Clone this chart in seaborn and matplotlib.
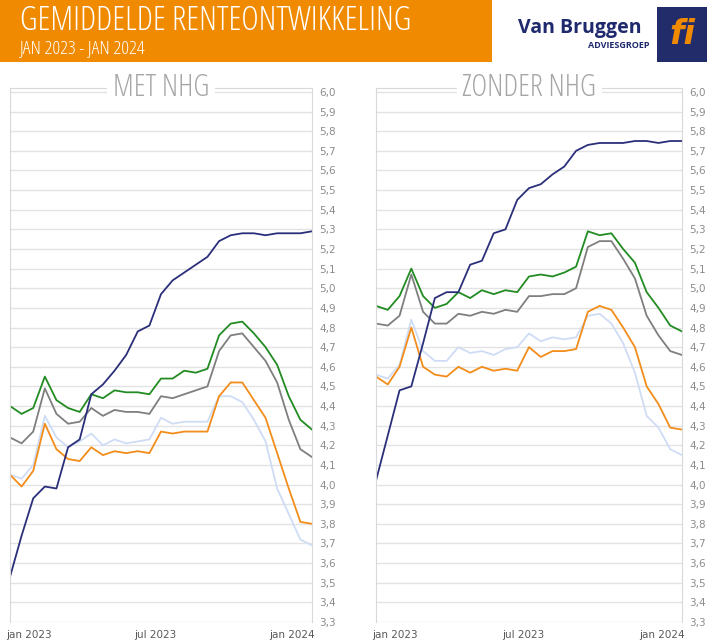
import matplotlib
matplotlib.use("Agg")
import matplotlib.pyplot as plt
from matplotlib.patches import Rectangle
from matplotlib import font_manager
import numpy as np
import pandas as pd
import seaborn as sns

# two-weekly readings, jan 2023 .. jan 2024
weeks = list(range(0, 53, 2))

met_navy = [3.53, 3.74, 3.93, 3.99, 3.98, 4.19, 4.23, 4.46, 4.51, 4.58, 4.66, 4.78, 4.81, 4.97,
            5.04, 5.08, 5.12, 5.16, 5.24, 5.27, 5.28, 5.28, 5.27, 5.28, 5.28, 5.28, 5.29]
met_green = [4.40, 4.36, 4.39, 4.55, 4.43, 4.39, 4.37, 4.46, 4.44, 4.48, 4.47, 4.47, 4.46, 4.54,
             4.54, 4.58, 4.57, 4.59, 4.76, 4.82, 4.83, 4.77, 4.70, 4.61, 4.45, 4.33, 4.28]
met_gray = [4.24, 4.21, 4.27, 4.49, 4.36, 4.31, 4.32, 4.39, 4.35, 4.38, 4.37, 4.37, 4.36, 4.45,
            4.44, 4.46, 4.48, 4.50, 4.68, 4.76, 4.77, 4.70, 4.63, 4.52, 4.33, 4.18, 4.14]
met_orange = [4.05, 3.99, 4.07, 4.31, 4.18, 4.13, 4.12, 4.19, 4.15, 4.17, 4.16, 4.17, 4.16, 4.27,
              4.26, 4.27, 4.27, 4.27, 4.45, 4.52, 4.52, 4.43, 4.34, 4.16, 3.98, 3.81, 3.80]
met_light = [4.05, 4.03, 4.10, 4.35, 4.24, 4.19, 4.22, 4.26, 4.20, 4.23, 4.21, 4.22, 4.23, 4.34,
             4.31, 4.32, 4.32, 4.32, 4.45, 4.45, 4.42, 4.33, 4.22, 3.98, 3.85, 3.72, 3.69]

zon_navy = [4.02, 4.25, 4.48, 4.50, 4.72, 4.95, 4.98, 4.98, 5.12, 5.14, 5.28, 5.30, 5.45, 5.51,
            5.53, 5.58, 5.62, 5.70, 5.73, 5.74, 5.74, 5.74, 5.75, 5.75, 5.74, 5.75, 5.75]
zon_green = [4.91, 4.89, 4.96, 5.10, 4.96, 4.90, 4.92, 4.98, 4.95, 4.99, 4.97, 4.99, 4.98, 5.06,
             5.07, 5.06, 5.08, 5.11, 5.29, 5.27, 5.28, 5.20, 5.13, 4.98, 4.90, 4.81, 4.78]
zon_gray = [4.82, 4.81, 4.86, 5.07, 4.88, 4.82, 4.82, 4.87, 4.86, 4.88, 4.87, 4.89, 4.88, 4.96,
            4.96, 4.97, 4.97, 5.00, 5.21, 5.24, 5.24, 5.15, 5.05, 4.86, 4.76, 4.68, 4.66]
zon_orange = [4.55, 4.51, 4.60, 4.80, 4.60, 4.56, 4.55, 4.60, 4.57, 4.60, 4.58, 4.59, 4.58, 4.70,
              4.65, 4.68, 4.68, 4.69, 4.88, 4.91, 4.89, 4.80, 4.70, 4.50, 4.41, 4.29, 4.28]
zon_light = [4.56, 4.54, 4.61, 4.84, 4.68, 4.63, 4.63, 4.70, 4.67, 4.68, 4.66, 4.69, 4.70, 4.77,
             4.73, 4.75, 4.74, 4.75, 4.86, 4.87, 4.82, 4.72, 4.57, 4.35, 4.29, 4.18, 4.15]

x_ticks = [3.3, 25, 48.6]
x_labels = ["jan 2023", "jul 2023", "jan 2024"]
y_ticks = np.round(np.arange(3.3, 6.01, 0.1), 1)

palette = {"navy": "#2b2f7a", "green": "#228b22", "gray": "#7f7f7f",
           "orange": "#f28c1a", "light": "#cfdcf5"}
ORANGE = "#f08a00"
TXT = "#a6a6a6"

names = {f.name for f in font_manager.fontManager.ttflist}
NARROW = "Liberation Sans Narrow" if "Liberation Sans Narrow" in names else "Open Sans"
NSTRETCH = "normal" if NARROW != "Open Sans" else "condensed"


def long_df(series):
    rows = []
    for name, vals in series.items():
        for w, v in zip(weeks, vals):
            rows.append({"week": w, "rente": v, "serie": name})
    return pd.DataFrame(rows)


panels = [
    ("MET NHG", {"light": met_light, "orange": met_orange, "gray": met_gray,
                 "green": met_green, "navy": met_navy}),
    ("ZONDER NHG", {"light": zon_light, "orange": zon_orange, "gray": zon_gray,
                    "green": zon_green, "navy": zon_navy}),
]

fig = plt.figure(figsize=(7.07, 6.44), dpi=100)
W, H = 707, 644
ax_rects = [(10, 312), (376, 682)]

for (title, series), (x0, x1) in zip(panels, ax_rects):
    ax = fig.add_axes([x0 / W, (H - 622) / H, (x1 - x0) / W, (622 - 88) / H])
    df = long_df(series)
    sns.lineplot(data=df, x="week", y="rente", hue="serie", palette=palette,
                 legend=False, ax=ax, linewidth=1.3)
    ax.set_xlim(0, 52)
    ax.set_ylim(3.3, 6.02)
    ax.set_yticks(y_ticks)
    ax.set_yticklabels([f"{t:.1f}".replace(".", ",") for t in y_ticks])
    ax.yaxis.tick_right()
    ax.tick_params(axis="y", length=0, labelsize=7.5, labelcolor="#8c8c8c", pad=5)
    ax.set_xticks(x_ticks)
    ax.set_xticklabels(x_labels)
    ax.tick_params(axis="x", length=0, labelsize=7.5, labelcolor="#595959", pad=6)
    ax.grid(axis="y", color="#e3e3e3", linewidth=1)
    ax.set_axisbelow(True)
    ax.set_xlabel("")
    ax.set_ylabel("")
    for s in ["top", "left", "right"]:
        ax.spines[s].set_color("#d9d9d9")
    ax.spines["bottom"].set_visible(False)
    ax.text(0.5, 1.0, title, transform=ax.transAxes, ha="center", va="center",
            fontsize=22, color=TXT, family=NARROW, fontstretch=NSTRETCH,
            bbox=dict(facecolor="white", edgecolor="none", pad=4))

# header
fig.patches.append(Rectangle((0, 1 - 62 / H), 492 / W, 62 / H, transform=fig.transFigure,
                             facecolor=ORANGE, edgecolor="none"))
fig.text(20 / W, 1 - 21 / H, "GEMIDDELDE RENTEONTWIKKELING", color="white",
         fontsize=24, va="center", family=NARROW, fontstretch=NSTRETCH)
fig.text(20 / W, 1 - 48 / H, "JAN 2023 - JAN 2024", color="white",
         fontsize=14, va="center", family=NARROW, fontstretch=NSTRETCH)
fig.text(518 / W, 1 - 28 / H, "Van Bruggen", color="#1f2a6e", fontsize=14,
         fontweight="bold", va="center", family="Open Sans")
fig.text(650 / W, 1 - 46 / H, "ADVIESGROEP", color="#1f2a6e", fontsize=6.5,
         fontweight="bold", va="center", ha="right", family="Open Sans")
fig.patches.append(Rectangle((657 / W, 1 - 62 / H), 50 / W, 55 / H, transform=fig.transFigure,
                             facecolor="#232c6b", edgecolor="none"))
fig.text(682 / W, 1 - 34 / H, "fi", color=ORANGE, fontsize=24, fontweight="bold",
         style="italic", ha="center", va="center", family="DejaVu Sans")

fig.savefig("out.png", dpi=100)
